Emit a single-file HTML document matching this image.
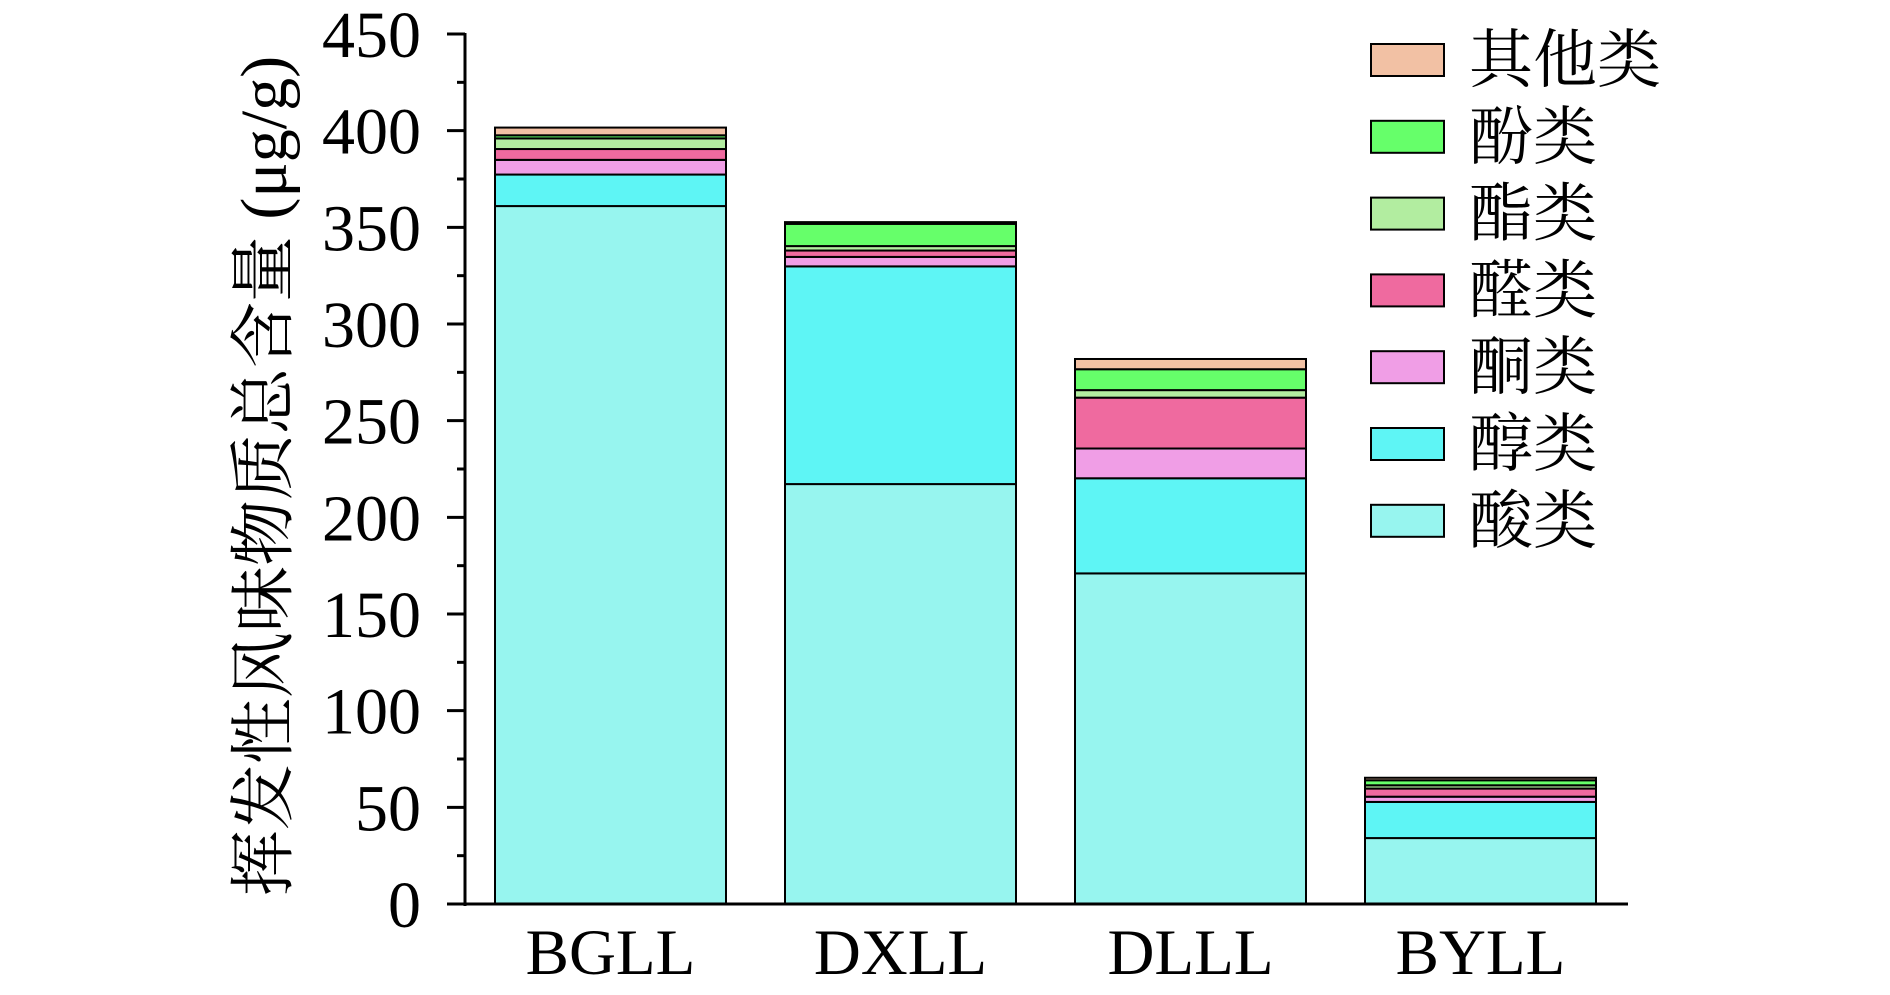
<!DOCTYPE html>
<html><head><meta charset="utf-8"><style>
html,body{margin:0;padding:0;background:#fff;}
svg{display:block;}
text{font-family:"Liberation Serif","Noto Serif CJK SC",serif;fill:#000;}
</style></head><body>
<svg id="chart" width="1890" height="995" viewBox="0 0 1890 995" xmlns="http://www.w3.org/2000/svg">
<g id="bars"></g>
<g id="axes"></g>
<g id="legend"></g>
<text transform="translate(286,476) rotate(-90)" text-anchor="middle" font-size="66" font-family="Liberation Serif, Noto Serif CJK SC, serif">挥发性风味物质总含量 (μg/g)</text>
</svg>
<script>
const categories = ["BGLL","DXLL","DLLL","BYLL"];
const seriesNames = ["酸类","醇类","酮类","醛类","酯类","酚类","其他类"];
const acid = [361, 217.2, 171, 34.1];
const alcohol = [16.3, 112.6, 49.2, 18.7];
const ketone = [7.6, 4.9, 15.4, 2.7];
const aldehyde = [5.6, 3.3, 26.3, 4.2];
const ester = [5.5, 2.3, 3.9, 1.7];
const phenol = [1.6, 11.5, 10.8, 2.6];
const other = [4.0, 0.9, 5.3, 1.3];
const yTicks = [0,50,100,150,200,250,300,350,400,450];
const colors = ["#97F5EF","#5EF5F5","#F09EE6","#EF6A9F","#B2EDA0","#66FF6A","#F2C1A4"];
const series = [acid,alcohol,ketone,aldehyde,ester,phenol,other];

const NS = "http://www.w3.org/2000/svg";
const x0 = 465, x1 = 1628, y0 = 904, yTop = 34, yMax = 450;
const firstBar = 495, step = 290, barW = 231;
function yScale(v){ return y0 - (v / yMax) * (y0 - yTop); }
function xScale(i){ return firstBar + i * step; }
function mk(tag, attrs, parent){ const e = document.createElementNS(NS, tag); for (const k in attrs) e.setAttribute(k, attrs[k]); parent.appendChild(e); return e; }

const gb = document.getElementById('bars');
categories.forEach((c, i) => {
  let base = 0;
  series.forEach((s, j) => {
    const v = s[i];
    const r = mk('rect', {x: xScale(i), y: yScale(base + v), width: barW, height: yScale(base) - yScale(base + v), fill: colors[j], stroke: '#000', 'stroke-width': 2}, gb);
    
    
    base += v;
  });
});

const ga = document.getElementById('axes');
const ya = mk('line', {x1: x0, y1: yTop - 1, x2: x0, y2: y0 + 2, stroke: '#000', 'stroke-width': 3}, ga);


const xa = mk('line', {x1: 447, y1: y0, x2: x1, y2: y0, stroke: '#000', 'stroke-width': 3}, ga);


yTicks.forEach((t, k) => {
  const y = yScale(t);
  mk('line', {x1: 447, y1: y, x2: x0, y2: y, stroke: '#000', 'stroke-width': 3}, ga);
  if (k < yTicks.length - 1) {
    const ym = yScale(t + 25);
    mk('line', {x1: 457, y1: ym, x2: x0, y2: ym, stroke: '#000', 'stroke-width': 3}, ga);
  }
  const tx = mk('text', {x: 421, y: y + 23, 'text-anchor': 'end', 'font-size': 66}, ga);
  tx.textContent = t;
  
  
});
categories.forEach((c, i) => {
  const tx = mk('text', {x: xScale(i) + barW / 2, y: 974, 'text-anchor': 'middle', 'font-size': 65}, ga);
  tx.textContent = c;
  
  
});

const gl = document.getElementById('legend');
for (let j = seriesNames.length - 1, row = 0; j >= 0; j--, row++) {
  const cy = 60 + row * 76.8;
  const g = mk('g', {}, gl);
  
  
  mk('rect', {x: 1371, y: cy - 16, width: 73, height: 32, fill: colors[j], stroke: '#000', 'stroke-width': 2}, g);
  const t = mk('text', {x: 1469, y: cy + 22, 'font-size': 64}, g);
  t.textContent = seriesNames[j];
}
</script>
</body></html>
